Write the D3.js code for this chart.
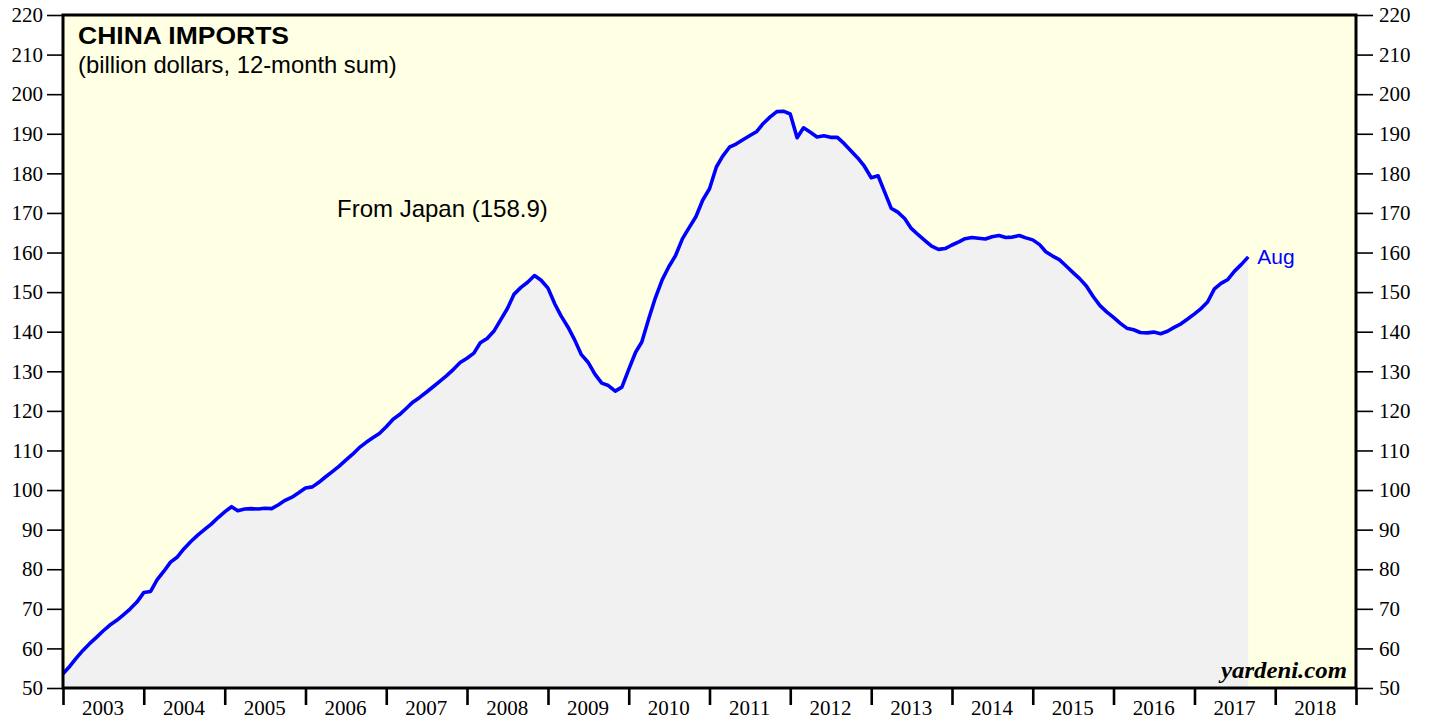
<!DOCTYPE html>
<html>
<head>
<meta charset="utf-8">
<script src="https://cdn.jsdelivr.net/npm/d3@7"></script>
<style>
  body { margin: 0; background: #fff; }
  svg { display: block; }
</style>
</head>
<body>
<div id="chart"></div>
<script>
// monthly 12-month sums, first value is Dec 2002, last is Aug 2017
var firstMonth = new Date(2002, 11, 1);
var importsFromJapan = [
  53.6, 55.5, 57.5, 59.5, 61.2, 62.8, 64.4, 65.9, 67.1, 68.5, 70.0, 71.7, 74.1,
  74.4, 77.3, 79.5, 81.8, 83.1, 85.2, 87.0, 88.6, 90.0, 91.4, 93.0, 94.5,
  95.8, 94.8, 95.2, 95.3, 95.2, 95.4, 95.3, 96.3, 97.4, 98.2, 99.3, 100.5,
  100.8, 101.9, 103.3, 104.6, 106.0, 107.5, 109.0, 110.7, 112.0, 113.2, 114.3, 116.0,
  117.9, 119.0, 120.6, 122.2, 123.4, 124.7, 126.1, 127.5, 128.9, 130.5, 132.2, 133.3,
  134.6, 137.2, 138.3, 140.1, 143.0, 145.8, 149.5, 151.2, 152.5, 154.2, 153.0, 151.0,
  147.0, 144.0, 141.2, 138.0, 134.2, 132.3, 129.3, 127.0, 126.4, 125.0, 126.0, 130.5,
  134.8, 137.4, 143.2, 148.5, 153.1, 156.4, 159.3, 163.5, 166.3, 169.1, 173.2, 176.1,
  181.6, 184.3, 186.6, 187.4, 188.5, 189.5, 190.5, 192.6, 194.2, 195.6, 195.7, 195.0,
  189.0, 191.5, 190.4, 189.2, 189.5, 189.1, 189.1, 187.5, 185.7, 183.9, 181.8, 178.9,
  179.4, 175.5, 171.2, 170.2, 168.6, 166.1, 164.5, 163.0, 161.6, 160.8, 161.0, 161.9,
  162.7, 163.5, 163.8, 163.6, 163.4, 164.0, 164.3, 163.8, 163.9, 164.3, 163.7, 163.2,
  162.0, 160.2, 159.1, 158.2, 156.6, 155.0, 153.4, 151.5, 148.9, 146.6, 145.0, 143.6,
  142.1, 140.9, 140.5, 139.8, 139.7, 139.9, 139.5, 140.1, 141.1, 142.0, 143.2, 144.5,
  145.9, 147.5, 150.8, 152.2, 153.2, 155.3, 157.0, 158.9
];
var yearLabels = ["2003", "2004", "2005", "2006", "2007", "2008", "2009", "2010",
  "2011", "2012", "2013", "2014", "2015", "2016", "2017", "2018"];
var yTicks = [50, 60, 70, 80, 90, 100, 110, 120, 130, 140, 150, 160, 170, 180, 190, 200, 210, 220];
var lastLabel = "Aug";
var seriesLabel = "From Japan (158.9)";

var width = 1429, height = 719;
var margin = { top: 15, right: 73, bottom: 31, left: 63 };
var plotW = width - margin.left - margin.right;
var plotH = height - margin.top - margin.bottom;

// each monthly value is drawn at the end of its month
var data = importsFromJapan.map(function(v, i) {
  return { date: d3.timeMonth.offset(firstMonth, i + 1), value: v };
});

var x = d3.scaleTime()
  .domain([new Date(2003, 0, 1), new Date(2019, 0, 1)])
  .range([0, plotW]);
var y = d3.scaleLinear().domain([50, 220]).range([plotH, 0]);

var svg = d3.select("#chart").append("svg")
  .attr("width", width)
  .attr("height", height);

var g = svg.append("g")
  .attr("transform", "translate(" + margin.left + "," + margin.top + ")");

g.append("clipPath").attr("id", "plot-clip")
  .append("rect").attr("width", plotW).attr("height", plotH);

// plot background
g.append("rect")
  .attr("width", plotW)
  .attr("height", plotH)
  .attr("fill", "#ffffe3");

var area = d3.area()
  .x(function(d) { return x(d.date); })
  .y0(plotH)
  .y1(function(d) { return y(d.value); });

var line = d3.line()
  .x(function(d) { return x(d.date); })
  .y(function(d) { return y(d.value); });

g.append("path")
  .datum(data)
  .attr("clip-path", "url(#plot-clip)")
  .attr("fill", "#f1f1f1")
  .attr("d", area);

g.append("path")
  .datum(data)
  .attr("clip-path", "url(#plot-clip)")
  .attr("fill", "none")
  .attr("stroke", "#0000ff")
  .attr("stroke-width", 3.6)
  .attr("stroke-linejoin", "round")
  .attr("d", line);

// y axes, left and right
var yLeft = d3.axisLeft(y).tickValues(yTicks).tickSize(16).tickPadding(4);
var yRight = d3.axisRight(y).tickValues(yTicks).tickSize(17).tickPadding(6);

var gl = g.append("g").call(yLeft);
var gr = g.append("g").attr("transform", "translate(" + plotW + ",0)").call(yRight);
[gl, gr].forEach(function(ax) {
  ax.select(".domain").remove();
  ax.selectAll(".tick line").attr("stroke", "#000").attr("stroke-width", 1.6);
  ax.selectAll(".tick text")
    .attr("fill", "#000")
    .style("font-family", "'Liberation Serif', 'Times New Roman', serif")
    .style("font-size", "21px");
});

// x axis: year boundary ticks, labels centred in each year
var yearStarts = d3.range(2003, 2020).map(function(yr) { return new Date(yr, 0, 1); });
var xAxis = d3.axisBottom(x).tickValues(yearStarts).tickSize(17).tickFormat("");
var gx = g.append("g").attr("transform", "translate(0," + plotH + ")").call(xAxis);
gx.select(".domain").remove();
gx.selectAll(".tick line").attr("stroke", "#000").attr("stroke-width", 2.6);

gx.selectAll(".year-label")
  .data(yearLabels)
  .enter().append("text")
  .attr("class", "year-label")
  .attr("x", function(d) { return x(new Date(+d, 6, 1)); })
  .attr("y", 27)
  .attr("text-anchor", "middle")
  .attr("fill", "#000")
  .style("font-family", "'Liberation Serif', 'Times New Roman', serif")
  .style("font-size", "21px")
  .text(function(d) { return d; });

// frame
g.append("rect")
  .attr("width", plotW)
  .attr("height", plotH)
  .attr("fill", "none")
  .attr("stroke", "#000")
  .attr("stroke-width", 3);

// titles and labels
var sans = "'Liberation Sans', Arial, Helvetica, sans-serif";
g.append("text")
  .attr("x", 15).attr("y", 29)
  .attr("textLength", 211).attr("lengthAdjust", "spacingAndGlyphs")
  .style("font-family", sans).style("font-size", "24.5px").style("font-weight", "bold")
  .text("CHINA IMPORTS");
g.append("text")
  .attr("x", 15).attr("y", 58)
  .style("font-family", sans).style("font-size", "23.8px")
  .text("(billion dollars, 12-month sum)");
g.append("text")
  .attr("x", 274).attr("y", 202)
  .style("font-family", sans).style("font-size", "24px")
  .text(seriesLabel);

var last = data[data.length - 1];
g.append("text")
  .attr("x", x(last.date) + 9)
  .attr("y", y(last.value) + 7)
  .attr("fill", "#0000ff")
  .style("font-family", sans).style("font-size", "21px")
  .text(lastLabel);

g.append("text")
  .attr("x", plotW - 9).attr("y", plotH - 10)
  .attr("text-anchor", "end")
  .attr("textLength", 126).attr("lengthAdjust", "spacingAndGlyphs")
  .style("font-family", "'Liberation Serif', 'Times New Roman', serif")
  .style("font-size", "23px").style("font-weight", "bold").style("font-style", "italic")
  .text("yardeni.com");
</script>
</body>
</html>
